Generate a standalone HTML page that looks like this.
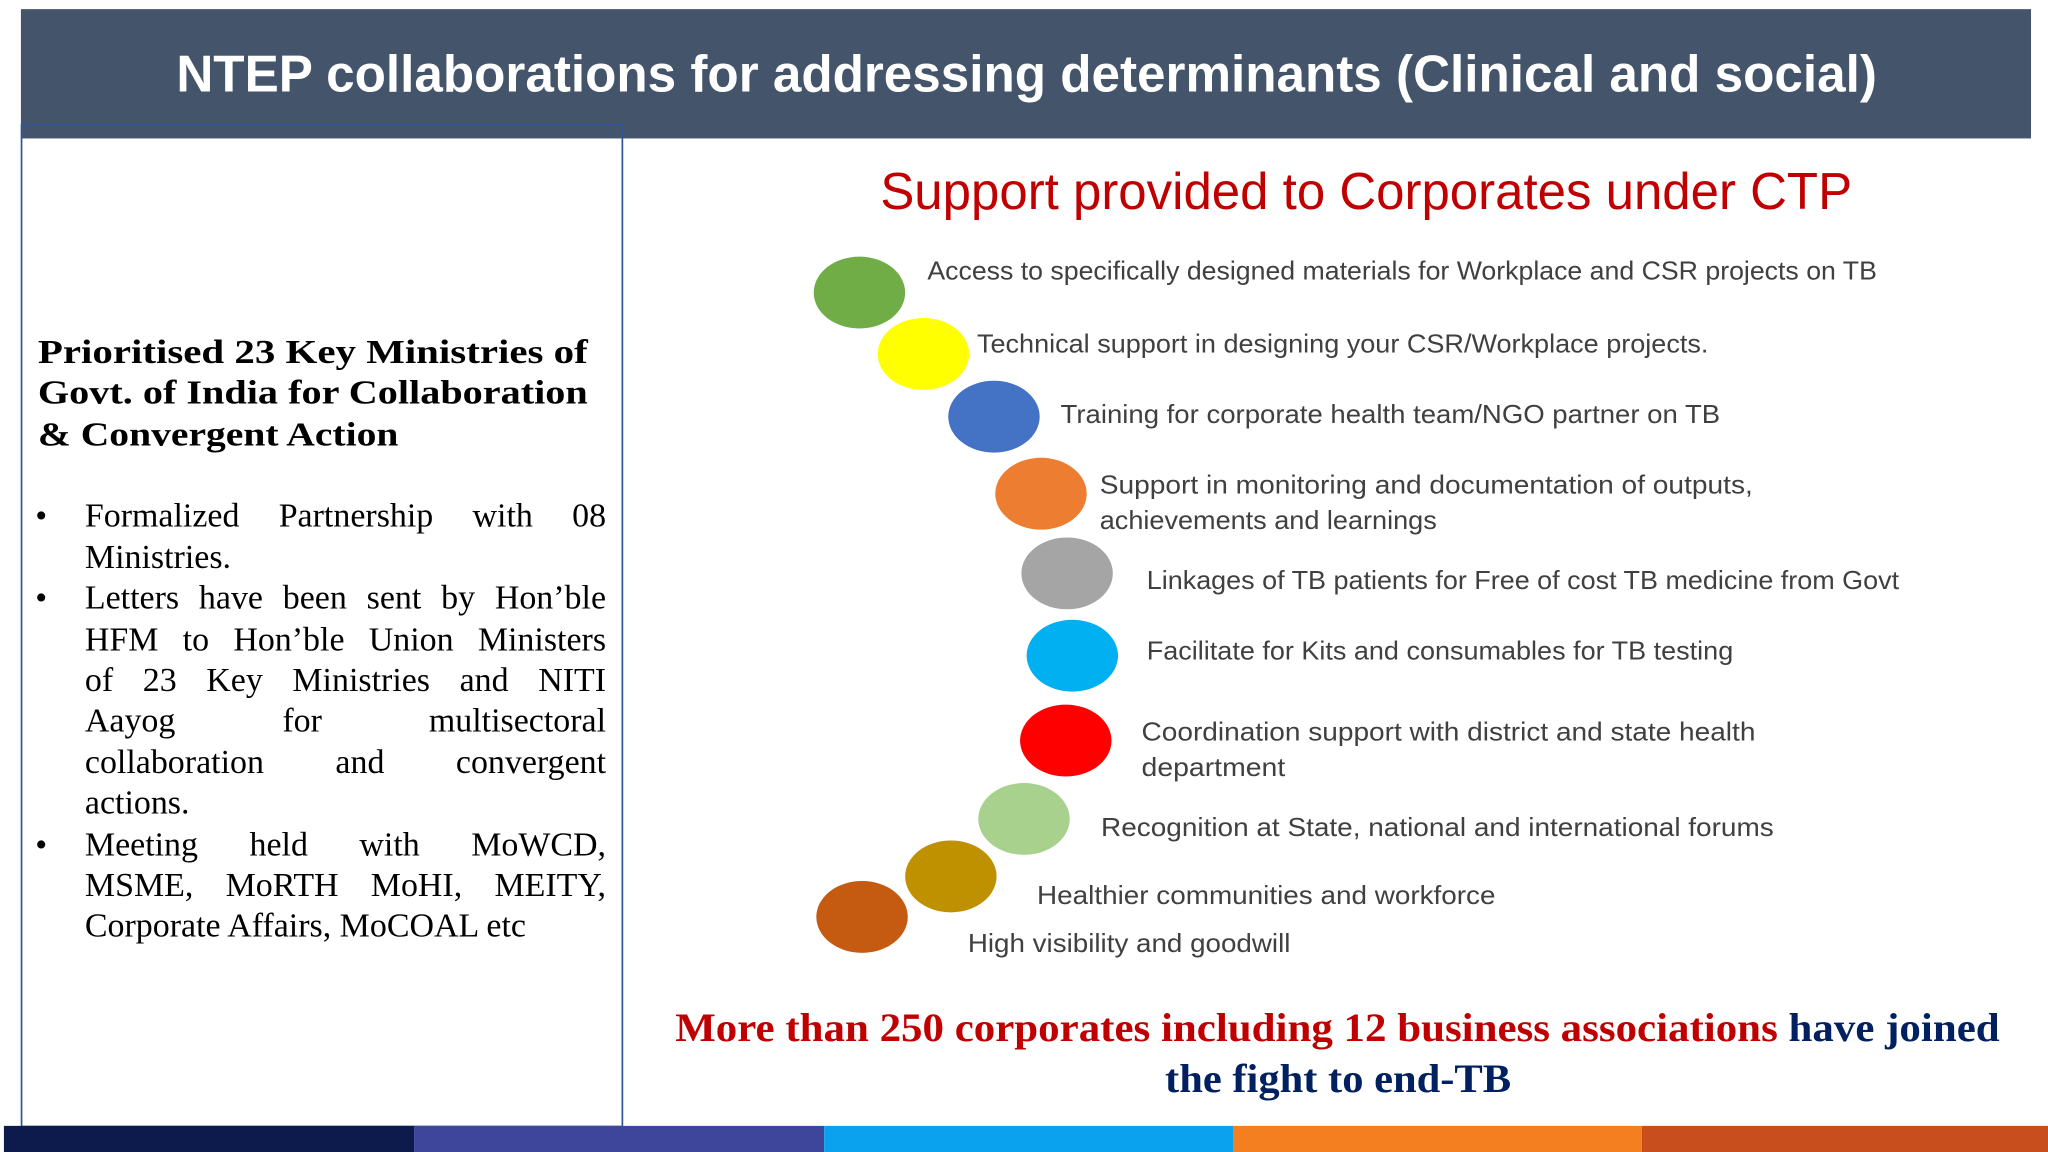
<!DOCTYPE html>
<html><head><meta charset="utf-8"><style>
html,body{margin:0;padding:0;background:#fff;overflow:hidden}
svg{display:block}
</style></head><body>
<svg width="2048" height="1152" viewBox="0 0 1568 882" xmlns="http://www.w3.org/2000/svg">
<rect x="0" y="0" width="1568" height="882" fill="#ffffff"/>
<g>
<rect x="16" y="7" width="1539" height="99" fill="#44546a"/>
<text x="135" y="70" textLength="1302" lengthAdjust="spacingAndGlyphs" font-family="Liberation Sans, sans-serif" font-weight="bold" font-size="40" fill="#ffffff">NTEP collaborations for addressing determinants (Clinical and social)</text>
</g>
<rect x="16.5" y="95.5" width="460" height="767" fill="none" stroke="#2f5597" stroke-width="1.3"/>
<g font-family="Liberation Serif, serif" font-size="26" fill="#000">
<g font-weight="bold">
<text x="29" y="278" textLength="421" lengthAdjust="spacingAndGlyphs">Prioritised 23 Key Ministries of</text>
<text x="29" y="309" textLength="421" lengthAdjust="spacingAndGlyphs">Govt. of India for Collaboration</text>
<text x="29" y="341" textLength="276" lengthAdjust="spacingAndGlyphs">&amp; Convergent Action</text>
</g>
<g id="bullets">
<text x="27" y="403">•</text>
<text x="65" y="403" class="j">Formalized Partnership with 08</text>
<text x="65" y="435">Ministries.</text>
<text x="27" y="466">•</text>
<text x="65" y="466" class="j">Letters have been sent by Hon’ble</text>
<text x="65" y="498" class="j">HFM to Hon’ble Union Ministers</text>
<text x="65" y="529" class="j">of 23 Key Ministries and NITI</text>
<text x="65" y="560" class="j">Aayog for multisectoral</text>
<text x="65" y="592" class="j">collaboration and convergent</text>
<text x="65" y="623">actions.</text>
<text x="27" y="655">•</text>
<text x="65" y="655" class="j">Meeting held with MoWCD,</text>
<text x="65" y="686" class="j">MSME, MoRTH MoHI, MEITY,</text>
<text x="65" y="717">Corporate Affairs, MoCOAL etc</text>
</g>
</g>
<text x="674" y="160" textLength="744" lengthAdjust="spacingAndGlyphs" font-family="Liberation Sans, sans-serif" font-size="40" fill="#c00000">Support provided to Corporates under CTP</text>
<g id="items" font-family="Liberation Sans, sans-serif" font-size="20" fill="#404040"></g>
<g font-family="Liberation Serif, serif" font-weight="bold" font-size="31">
<text x="517" y="797" textLength="1014" lengthAdjust="spacingAndGlyphs"><tspan fill="#c00000">More than 250 corporates including 12  business associations </tspan><tspan fill="#002060">have joined</tspan></text>
<text x="892" y="836" textLength="265" lengthAdjust="spacingAndGlyphs" fill="#002060">the fight to end-TB</text>
</g>
<g>
<rect x="3" y="862" width="314" height="20" fill="#0c1a4c"/>
<rect x="317" y="862" width="314" height="20" fill="#3e469c"/>
<rect x="631" y="862" width="313" height="20" fill="#0aa2ee"/>
<rect x="944" y="862" width="313" height="20" fill="#f47f20"/>
<rect x="1257" y="862" width="311" height="20" fill="#c84f1d"/>
</g>
</svg>
<script>
const labels=[
["Access to specifically designed materials for Workplace and CSR projects on TB"],
["Technical support in designing your CSR/Workplace projects."],
["Training for corporate health team/NGO partner on TB"],
["Support in monitoring and documentation of outputs,","achievements and learnings"],
["Linkages of TB patients for Free of cost TB medicine from Govt"],
["Facilitate for Kits and consumables for TB testing"],
["Coordination support with district and state health","department"],
["Recognition at  State, national and international forums"],
["Healthier communities and workforce"],
["High visibility and goodwill"]];
const colors=["#70ad47","#ffff00","#4472c4","#ed7d31","#a5a5a5","#00b0f0","#ff0000","#a9d18e","#bf9000","#c55a11"];
const cx=[658,707,761,797,817,821,816,784,728,660];
const cy=[224,271,319,378,439,502,567,627,671,702];
const tx=[710,748,812,842,878,878,874,843,794,741];
const ty=[214,270,324,378,451,505,567,640,692,729];
const tw=[[727],[560],[505],[500,258],[576],[449],[470,110],[515],[351],[247]];
const g=document.getElementById('items');
const NS="http://www.w3.org/2000/svg";
for(let i=0;i<labels.length;i++){
 const e=document.createElementNS(NS,'ellipse');
 
 
 e.setAttribute('cx',cx[i]);e.setAttribute('cy',cy[i]);e.setAttribute('rx',35);e.setAttribute('ry',27.5);e.setAttribute('fill',colors[i]);
 g.appendChild(e);
 labels[i].forEach((l,j)=>{
  const t=document.createElementNS(NS,'text');
  
  
  t.setAttribute('x',tx[i]);t.setAttribute('y',ty[i]+j*27);
  t.setAttribute('textLength',tw[i][j]);t.setAttribute('lengthAdjust','spacingAndGlyphs');
  t.textContent=l;g.appendChild(t);
 });
}
// justify bullet lines by spacing words
document.querySelectorAll('#bullets text.j').forEach(t=>{
 const words=t.textContent.split(' ');const y=t.getAttribute('y');const par=t.parentNode;
 const els=words.map(w=>{const n=document.createElementNS(NS,'text');n.setAttribute('y',y);n.textContent=w;par.appendChild(n);return n;});
 const ws=els.map(n=>n.getComputedTextLength());
 const total=ws.reduce((a,b)=>a+b,0);
 const gap=(399-total)/(words.length-1);
 let x=65;els.forEach((n,k)=>{n.setAttribute('x',x);x+=ws[k]+gap;});
 par.removeChild(t);
});
</script>
</body></html>
